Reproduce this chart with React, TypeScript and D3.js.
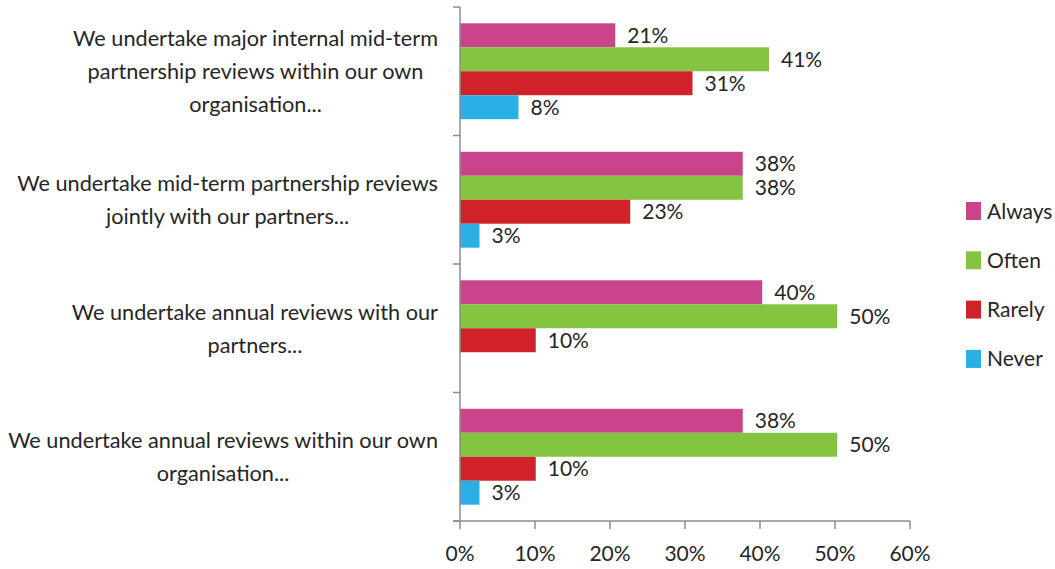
import React, { useEffect, useRef } from 'react'
import { scaleLinear, scaleBand, select, range } from 'd3'

const W = 1055, H = 569

const categories = [
    'We undertake major internal mid-term|partnership reviews within our own|organisation...',
    'We undertake mid-term partnership reviews|jointly with our partners...',
    'We undertake annual reviews with our|partners...',
    'We undertake annual reviews within our own|organisation...',
]
const seriesNames = ['Always', 'Often', 'Rarely', 'Never']
const seriesColors = ['#C9448A', '#84C441', '#D12229', '#29AFE3']
// one array per series, in category order
const always = [20.7, 37.7, 40.3, 37.7]
const often = [41.2, 37.7, 50.3, 50.3]
const rarely = [31, 22.7, 10.1, 10.1]
const never = [7.8, 2.6, 0, 2.6]
const xTicks = [0, 10, 20, 30, 40, 50, 60]

const FONT = 'Lato, "Open Sans", sans-serif'
const TEXT = '#262626'
const AXIS = '#8c8c8c'

export default function App() {
    const ref = useRef(null)

    useEffect(() => {
        const svg = select(ref.current)
        svg.selectAll('*').remove()

        const x = scaleLinear().domain([0, 60]).range([460, 910])
        const yGroup = scaleBand().domain(categories).range([7, 521])
        const yInner = scaleBand().domain(seriesNames).range([0, yGroup.bandwidth()]).paddingOuter(0.68)
        const values = [always, often, rarely, never]

        // bars
        categories.forEach((c, ci) => {
            const g = svg.append('g').attr('transform', `translate(0,${yGroup(c)})`)
            seriesNames.forEach((s, si) => {
                const v = values[si][ci]
                if (!v) return
                g.append('rect')
                    .attr('x', x(0))
                    .attr('y', yInner(s))
                    .attr('width', x(v) - x(0))
                    .attr('height', yInner.bandwidth())
                    .attr('fill', seriesColors[si])
                g.append('text')
                    .attr('x', x(v) + 12)
                    .attr('y', yInner(s)! + yInner.bandwidth() / 2)
                    .attr('dy', '0.36em')
                    .attr('font-family', FONT)
                    .attr('font-size', 21)
                    .attr('fill', TEXT)
                    .text(Math.round(v) + '%')
            })
        })

        // y axis
        svg.append('line').attr('x1', x(0)).attr('x2', x(0)).attr('y1', 7).attr('y2', 521)
            .attr('stroke', AXIS).attr('stroke-width', 1.5)
        range(categories.length + 1).forEach(i => {
            const yy = 7 + i * yGroup.step()
            svg.append('line').attr('x1', x(0) - 7).attr('x2', x(0)).attr('y1', yy).attr('y2', yy)
                .attr('stroke', AXIS).attr('stroke-width', 1.5)
        })

        // x axis
        svg.append('line').attr('x1', x(0) - 7).attr('x2', x(60)).attr('y1', 521).attr('y2', 521)
            .attr('stroke', AXIS).attr('stroke-width', 1.5)
        xTicks.forEach(t => {
            svg.append('line').attr('x1', x(t)).attr('x2', x(t)).attr('y1', 521).attr('y2', 529)
                .attr('stroke', AXIS).attr('stroke-width', 1.5)
            svg.append('text')
                .attr('x', x(t)).attr('y', 553).attr('dy', '0.36em')
                .attr('text-anchor', 'middle')
                .attr('font-family', FONT).attr('font-size', 21).attr('fill', TEXT)
                .text(t + '%')
        })

        // category labels: centred block, right edge at 438
        categories.forEach(c => {
            const lines = c.split('|')
            const cy = yGroup(c)! + yGroup.bandwidth() / 2
            const lh = 33
            const g = svg.append('g')
            const texts = lines.map((l, i) =>
                g.append('text')
                    .attr('y', cy + (i - (lines.length - 1) / 2) * lh)
                    .attr('dy', '0.36em')
                    .attr('text-anchor', 'middle')
                    .attr('font-family', FONT).attr('font-size', 21.7).attr('fill', TEXT)
                    .text(l))
            const maxW = Math.max(...texts.map(t => (t.node() as SVGTextElement).getComputedTextLength()))
            texts.forEach(t => t.attr('x', 438 - maxW / 2))
        })

        // legend
        seriesNames.forEach((s, i) => {
            const cy = 211 + i * 49.3
            svg.append('rect').attr('x', 966).attr('y', cy - 9).attr('width', 15).attr('height', 18)
                .attr('fill', seriesColors[i])
            svg.append('text').attr('x', 987).attr('y', cy).attr('dy', '0.36em')
                .attr('font-family', FONT).attr('font-size', 21).attr('fill', TEXT)
                .text(s)
        })
    }, [])

    return (
        <svg ref={ref} width={W} height={H}
            style={{ position: 'absolute', left: 0, top: 0, background: '#fff' }} />
    )
}
